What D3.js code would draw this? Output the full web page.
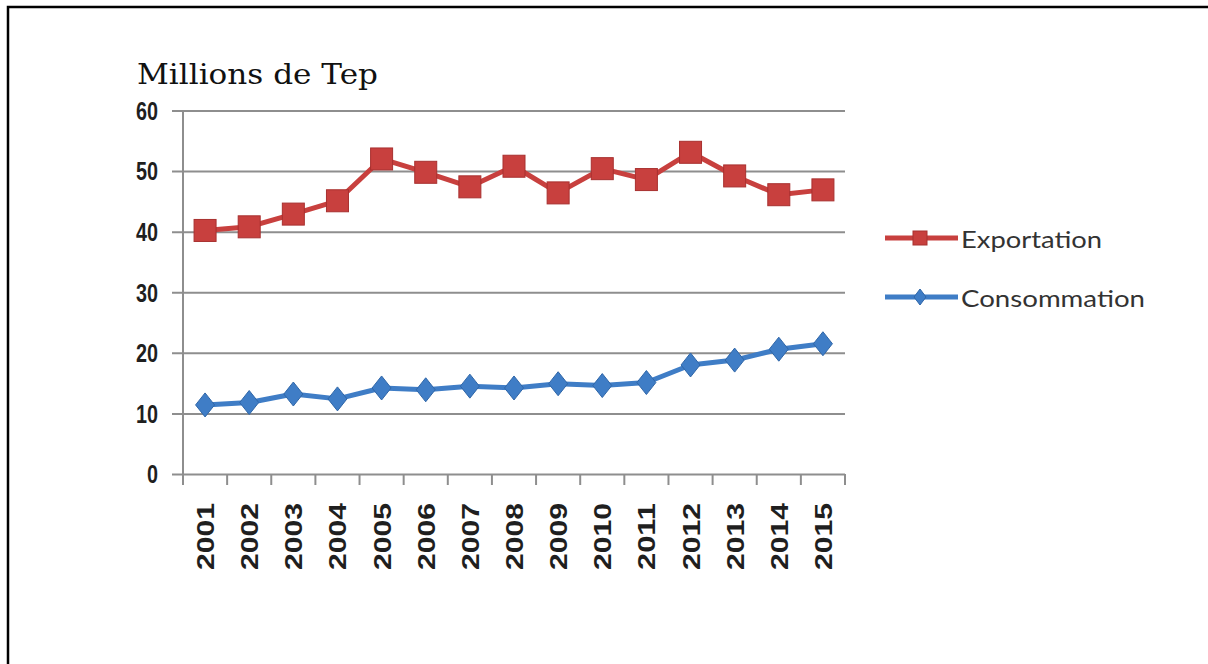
<!DOCTYPE html>
<html>
<head>
<meta charset="utf-8">
<script src="https://cdn.jsdelivr.net/npm/d3@7/dist/d3.min.js"></script>
<style>
  html, body { margin: 0; padding: 0; background: #fff; overflow: hidden; }
  svg { display: block; }
</style>
</head>
<body>
<svg id="chart" width="1208" height="664"></svg>
<script>
// Production de pétrole : exportation et consommation (millions de Tep)
const years = ["2001","2002","2003","2004","2005","2006","2007","2008","2009","2010","2011","2012","2013","2014","2015"];
const exportation = [40.2, 40.8, 42.9, 45.1, 52.0, 49.8, 47.4, 50.8, 46.4, 50.4, 48.6, 53.1, 49.2, 46.1, 46.9];
const consommation = [11.4, 11.8, 13.2, 12.4, 14.2, 13.9, 14.5, 14.2, 14.9, 14.6, 15.1, 18.0, 18.8, 20.6, 21.5];
const yTicks = [0, 10, 20, 30, 40, 50, 60];
const seriesNames = ["Exportation", "Consommation"];
const unitLabel = "Millions de Tep";

const RED = "#c8403e", RED_DARK = "#a8302f";
const BLUE = "#3f7dc6", BLUE_DARK = "#2f66a8";
const GRID = "#8e8e8e";

const svg = d3.select("#chart");

// page frame (left and top edges)
svg.append("path")
  .attr("d", "M8,664V7H1208")
  .attr("fill", "none").attr("stroke", "#000").attr("stroke-width", 2.5);

const plotLeft = 183, plotRight = 845, plotTop = 110.5, plotBottom = 474;

const x = d3.scaleBand().domain(years).range([plotLeft, plotRight]);
const y = d3.scaleLinear().domain([0, 60]).range([plotBottom, plotTop]);
const cx = d => x(d) + x.bandwidth() / 2;

// horizontal gridlines (extending left as outer ticks)
svg.append("g")
  .attr("transform", `translate(${plotLeft - 11},0)`)
  .call(d3.axisRight(y).tickValues(yTicks).tickSize(plotRight - plotLeft + 11).tickFormat(""))
  .call(g => g.select(".domain").remove())
  .call(g => g.selectAll(".tick line").attr("stroke", GRID).attr("stroke-width", 2));

// y axis line
svg.append("line")
  .attr("x1", plotLeft).attr("x2", plotLeft).attr("y1", plotTop).attr("y2", plotBottom + 11)
  .attr("stroke", GRID).attr("stroke-width", 2);

// y tick labels
svg.append("g")
  .attr("transform", `translate(${plotLeft},0)`)
  .call(d3.axisLeft(y).tickValues(yTicks).tickSize(0).tickPadding(25))
  .call(g => g.select(".domain").remove())
  .call(g => g.selectAll("text")
    .attr("font-family", "Liberation Sans, Arial, sans-serif")
    .attr("font-weight", "bold")
    .attr("font-size", 26)
    .attr("dy", "0.34em")
    .attr("fill", "#1f1f1f")
    .attr("textLength", d => String(d).length * 11)
    .attr("lengthAdjust", "spacingAndGlyphs"));

// x category boundary ticks
const bounds = years.map(d => x(d)).concat([x.range()[1]]);
svg.append("g").selectAll("line")
  .data(bounds)
  .join("line")
  .attr("x1", d => d).attr("x2", d => d)
  .attr("y1", plotBottom).attr("y2", plotBottom + 11)
  .attr("stroke", GRID).attr("stroke-width", 2);

// x tick labels (rotated)
svg.append("g")
  .attr("transform", `translate(0,${plotBottom})`)
  .call(d3.axisBottom(x).tickSize(0).tickPadding(0))
  .call(g => g.select(".domain").remove())
  .call(g => g.selectAll("text")
    .attr("transform", "translate(9,29) rotate(-90)")
    .attr("text-anchor", "end")
    .attr("dy", 0)
    .attr("font-family", "Liberation Sans, Arial, sans-serif")
    .attr("font-weight", "bold")
    .attr("font-size", 24)
    .attr("fill", "#1f1f1f")
    .attr("textLength", 67)
    .attr("lengthAdjust", "spacingAndGlyphs"));

// unit label
svg.append("text")
  .attr("x", 137).attr("y", 84)
  .attr("font-family", "DejaVu Serif, serif")
  .attr("font-size", 28)
  .attr("fill", "#111")
  .attr("textLength", 241)
  .attr("lengthAdjust", "spacingAndGlyphs")
  .text(unitLabel);

const line = d3.line().x((v, i) => cx(years[i])).y(v => y(v));

// Consommation series
svg.append("path").datum(consommation)
  .attr("d", line).attr("fill", "none")
  .attr("stroke", BLUE).attr("stroke-width", 5).attr("stroke-linejoin", "round");
const diamond = (w, h) => `M0,${-h/2}L${w/2},0L0,${h/2}L${-w/2},0Z`;
svg.append("g").selectAll("path")
  .data(consommation)
  .join("path")
  .attr("transform", (v, i) => `translate(${cx(years[i])},${y(v)})`)
  .attr("d", diamond(19, 24))
  .attr("fill", BLUE).attr("stroke", BLUE_DARK).attr("stroke-width", 1);

// Exportation series
svg.append("path").datum(exportation)
  .attr("d", line).attr("fill", "none")
  .attr("stroke", RED).attr("stroke-width", 5).attr("stroke-linejoin", "round");
svg.append("g").selectAll("rect")
  .data(exportation)
  .join("rect")
  .attr("x", (v, i) => cx(years[i]) - 11)
  .attr("y", v => y(v) - 11)
  .attr("width", 22).attr("height", 22)
  .attr("fill", RED).attr("stroke", RED_DARK).attr("stroke-width", 1);

// legend
const legend = svg.append("g");
const legendRows = [
  { name: seriesNames[0], color: RED, dark: RED_DARK, ly: 238, marker: "square", len: 141 },
  { name: seriesNames[1], color: BLUE, dark: BLUE_DARK, ly: 297, marker: "diamond", len: 184 }
];
legendRows.forEach(r => {
  legend.append("line")
    .attr("x1", 885).attr("x2", 958).attr("y1", r.ly).attr("y2", r.ly)
    .attr("stroke", r.color).attr("stroke-width", 5);
  if (r.marker === "square") {
    legend.append("rect")
      .attr("x", 913).attr("y", r.ly - 7).attr("width", 14).attr("height", 14)
      .attr("fill", r.color).attr("stroke", r.dark).attr("stroke-width", 1);
  } else {
    legend.append("path")
      .attr("transform", `translate(920,${r.ly})`)
      .attr("d", diamond(12, 16))
      .attr("fill", r.color).attr("stroke", r.dark).attr("stroke-width", 1);
  }
  legend.append("text")
    .attr("x", 961).attr("y", r.ly + 10)
    .attr("font-family", "Lato, Open Sans, sans-serif")
    .attr("font-size", 24)
    .attr("fill", "#333")
    .attr("textLength", r.len)
    .attr("lengthAdjust", "spacingAndGlyphs")
    .text(r.name);
});
</script>
</body>
</html>
